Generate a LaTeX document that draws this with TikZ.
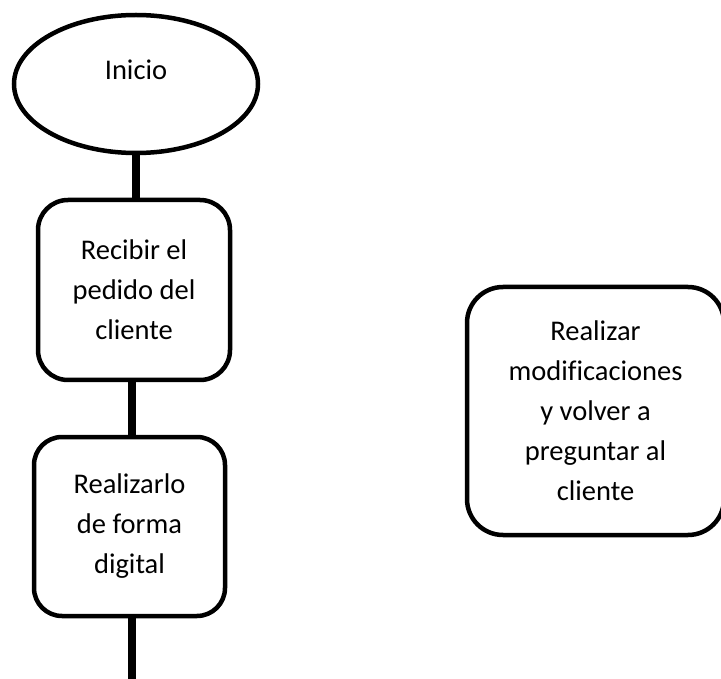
\documentclass[tikz,border=0pt]{standalone}
\usepackage{fontspec}
\setmainfont{Carlito}[Ligatures=NoCommon]
\usetikzlibrary{shapes.geometric}
\tikzset{
  procbox/.style={draw=black, line width=4.5pt, rounded corners=#1, align=center, inner sep=0pt,
    font=\fontsize{28.5}{40}\selectfont},
  procbox/.default=30pt,
  termshape/.style={draw=black, line width=4.5pt, ellipse, inner sep=0pt},
  txt/.style={font=\fontsize{28.5}{40}\selectfont, inner sep=0pt},
  conn/.style={line width=8pt, draw=black}
}
\begin{document}
\begin{tikzpicture}[x=1pt,y=-1pt]
\useasboundingbox (0,0) rectangle (721,679);
\node[termshape, minimum width=244pt, minimum height=138pt] (start) at (136,84) {};
\node[txt] (startlabel) at (136,70) {Inicio};
\node[procbox=30pt, minimum width=192pt, minimum height=180pt] (b1) at (134,290)
  {Recibir el\\pedido del\\cliente};
\node[procbox=28pt, minimum width=191pt, minimum height=179pt] (b2) at (129.5,526.5)
  {Realizarlo\\de forma\\digital};
\node[procbox=36pt, minimum width=257pt, minimum height=248pt] (b3) at (595.5,411)
  {Realizar\\modificaciones\\y volver a\\preguntar al\\cliente};
\coordinate (c1) at (136,0);
\coordinate (c2) at (132,0);
\coordinate (endpt) at (132,690);
\draw[conn] (c1 |- start.south) -- (c1 |- b1.north);
\draw[conn] (c2 |- b1.south) -- (c2 |- b2.north);
\draw[conn] (c2 |- b2.south) -- (endpt);
\end{tikzpicture}
\end{document}
